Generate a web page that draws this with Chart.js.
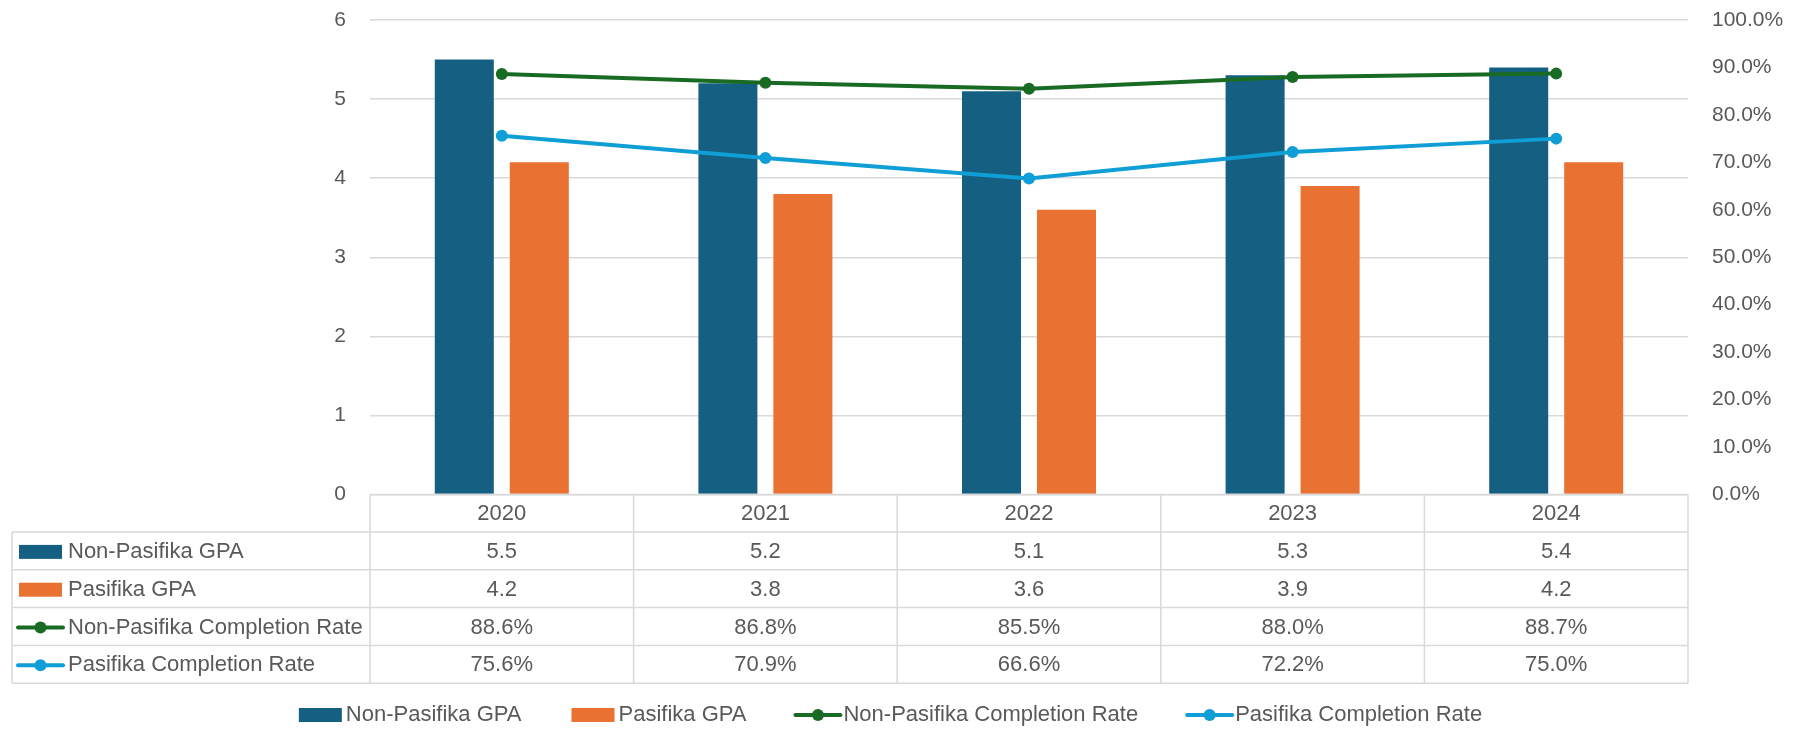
<!DOCTYPE html>
<html>
<head>
<meta charset="utf-8">
<title>GPA and Completion Rate</title>
<script src="https://cdn.jsdelivr.net/npm/chart.js@4.4.1/dist/chart.umd.min.js"></script>
<style>
  html, body { margin: 0; padding: 0; background: #fff; }
  #wrap { width: 1801px; height: 731px; }
</style>
</head>
<body>
<div id="wrap"><canvas id="gpaChart" width="1801" height="731"></canvas></div>
<script>
// data
const years = ['2020', '2021', '2022', '2023', '2024'];
const nonPasifikaGpa = [5.5, 5.2, 5.1, 5.3, 5.4];
const pasifikaGpa = [4.2, 3.8, 3.6, 3.9, 4.2];
const nonPasifikaRate = [88.6, 86.8, 85.5, 88.0, 88.7];
const pasifikaRate = [75.6, 70.9, 66.6, 72.2, 75.0];
const gpaTicks = [0, 1, 2, 3, 4, 5, 6];
const rateTicks = [0, 10, 20, 30, 40, 50, 60, 70, 80, 90, 100];

const TEXT = '#595959';
const GRID = '#D9D9D9';
const FONT = '"Liberation Sans", Arial, sans-serif';

const series = [
    { label: 'Non-Pasifika GPA', kind: 'bar', color: '#156082', values: nonPasifikaGpa, fmt: v => v.toFixed(1) },
    { label: 'Pasifika GPA', kind: 'bar', color: '#E97132', values: pasifikaGpa, fmt: v => v.toFixed(1) },
    { label: 'Non-Pasifika Completion Rate', kind: 'line', color: '#196B24', values: nonPasifikaRate, fmt: v => v.toFixed(1) + '%' },
    { label: 'Pasifika Completion Rate', kind: 'line', color: '#0F9ED5', values: pasifikaRate, fmt: v => v.toFixed(1) + '%' }
];

// legend marker: bar swatch or line with dot
function drawKey(ctx, s, x, cy) {
    ctx.save();
    if (s.kind === 'bar') {
        ctx.fillStyle = s.color;
        ctx.fillRect(x + 2, cy - 7, 43, 14);
    } else {
        ctx.strokeStyle = s.color;
        ctx.lineWidth = 4;
        ctx.lineCap = 'round';
        ctx.beginPath();
        ctx.moveTo(x + 1, cy);
        ctx.lineTo(x + 46, cy);
        ctx.stroke();
        ctx.fillStyle = s.color;
        ctx.beginPath();
        ctx.arc(x + 23.5, cy, 6, 0, Math.PI * 2);
        ctx.fill();
    }
    ctx.restore();
}

// data table under the plot + legend at the bottom
const tablePlugin = {
    id: 'dataTable',
    afterDraw(chart) {
        const ctx = chart.ctx;
        const xs = chart.scales.x;
        const area = chart.chartArea;
        const colW = (area.right - area.left) / years.length;
        const top = area.bottom;
        const headH = 37.5;
        const rowH = 37.8;
        const left = 12;
        const bottom = top + headH + rowH * series.length;

        ctx.save();
        ctx.strokeStyle = GRID;
        ctx.lineWidth = 1.5;

        // horizontal borders
        ctx.beginPath();
        ctx.moveTo(area.left, top);
        ctx.lineTo(area.right, top);
        for (let r = 0; r <= series.length; r++) {
            const y = top + headH + rowH * r;
            ctx.moveTo(left, y);
            ctx.lineTo(area.right, y);
        }
        // vertical borders
        ctx.moveTo(left, top + headH);
        ctx.lineTo(left, bottom);
        for (let c = 0; c <= years.length; c++) {
            const x = area.left + colW * c;
            ctx.moveTo(x, top);
            ctx.lineTo(x, bottom);
        }
        ctx.stroke();

        ctx.fillStyle = TEXT;
        ctx.font = '22px ' + FONT;
        ctx.textBaseline = 'middle';
        ctx.textAlign = 'center';
        years.forEach((yr, i) => {
            ctx.fillText(yr, xs.getPixelForValue(i), top + headH / 2 + 1);
        });

        series.forEach((s, r) => {
            const cy = top + headH + rowH * r + rowH / 2 + 1;
            drawKey(ctx, s, 17, cy);
            ctx.fillStyle = TEXT;
            ctx.textAlign = 'left';
            ctx.fillText(s.label, 68, cy);
            ctx.textAlign = 'center';
            s.values.forEach((v, i) => {
                ctx.fillText(s.fmt(v), xs.getPixelForValue(i), cy);
            });
        });

        // legend
        const ly = 715;
        const keyW = 49;
        const gap = 48;
        const widths = series.map(s => keyW + ctx.measureText(s.label).width);
        const total = widths.reduce((a, b) => a + b, 0) + gap * (series.length - 1);
        let lx = 889.5 - total / 2;
        ctx.textAlign = 'left';
        series.forEach((s, i) => {
            drawKey(ctx, s, lx, ly);
            ctx.fillStyle = TEXT;
            ctx.fillText(s.label, lx + keyW, ly);
            lx += widths[i] + gap;
        });
        ctx.restore();
    }
};

const datasets = series.map(s => {
    if (s.kind === 'bar') {
        return {
            type: 'bar',
            label: s.label,
            data: s.values,
            backgroundColor: s.color,
            yAxisID: 'y',
            order: 2,
            categoryPercentage: 0.569,
            barPercentage: 0.787
        };
    }
    return {
        type: 'line',
        label: s.label,
        data: s.values,
        borderColor: s.color,
        backgroundColor: s.color,
        borderWidth: 4,
        pointRadius: 6,
        pointHoverRadius: 6,
        pointBorderWidth: 0,
        tension: 0,
        yAxisID: 'y1',
        order: 1
    };
});

// fixed axis widths; drop the extra top/bottom space the tick padding adds
function fixWidth(w) {
    return function(scale) {
        scale.width = w;
        scale.paddingTop = 0;
        scale.paddingBottom = 0;
    };
}

new Chart(document.getElementById('gpaChart'), {
    data: { labels: years, datasets: datasets },
    plugins: [tablePlugin],
    options: {
        responsive: false,
        animation: false,
        devicePixelRatio: 1,
        layout: { padding: { top: 20, bottom: 0, left: 0, right: 0 } },
        plugins: {
            legend: { display: false },
            tooltip: { enabled: false }
        },
        scales: {
            x: {
                grid: { display: false },
                border: { display: false },
                ticks: { display: false },
                afterFit(scale) { scale.height = 236.5; }
            },
            y: {
                position: 'left',
                min: gpaTicks[0],
                max: gpaTicks[gpaTicks.length - 1],
                afterBuildTicks(scale) { scale.ticks = gpaTicks.map(v => ({ value: v })); },
                grid: { color: GRID, lineWidth: 1.5, drawTicks: false },
                border: { display: false },
                ticks: { color: TEXT, padding: 24, font: { family: FONT, size: 21 } },
                afterFit: fixWidth(370)
            },
            y1: {
                position: 'right',
                min: rateTicks[0],
                max: rateTicks[rateTicks.length - 1],
                afterBuildTicks(scale) { scale.ticks = rateTicks.map(v => ({ value: v })); },
                grid: { display: false, drawTicks: false },
                border: { display: false },
                ticks: {
                    color: TEXT,
                    padding: 24,
                    font: { family: FONT, size: 21 },
                    callback: v => v.toFixed(1) + '%'
                },
                afterFit: fixWidth(113)
            }
        }
    }
});
</script>
</body>
</html>
